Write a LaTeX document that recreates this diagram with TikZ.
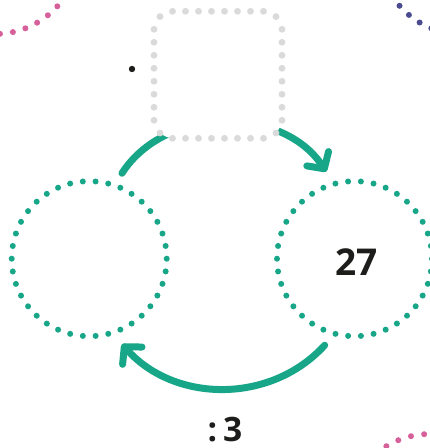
\documentclass[tikz,border=0pt]{standalone}
\usepackage{fontspec}
\setmainfont{Open Sans}
\usetikzlibrary{arrows.meta}
\definecolor{tealgreen}{HTML}{18A689}
\definecolor{dotgray}{HTML}{DADADA}
\definecolor{rosepink}{HTML}{D6609A}
\definecolor{inkblue}{HTML}{4B4B8F}
\definecolor{inkblack}{HTML}{1D1D1B}
\begin{document}
\begin{tikzpicture}[x=1pt,y=1pt, line join=round, line cap=round,
	ring/.style={circle, minimum size=155pt, inner sep=0pt, outer sep=14pt, draw=tealgreen, line width=6pt, dash pattern=on 0pt off 12.816pt, text=inkblack, font=\bfseries\fontsize{37}{40}\selectfont},
	flow/.style={draw=tealgreen, line width=7pt, -{Straight Barb[length=12pt,width=26pt,round]}}]
	\fill[white] (0,0) rectangle (430,448);
	\useasboundingbox (0,0) rectangle (430,448);
	\node[ring] (lring) at (89.2,189.3) {};
	\node[ring] (rring) at (354.5,189.3) {\hspace{4pt}\raisebox{-3pt}[\height][0pt]{27}};
	\draw[flow] (lring.69) to[bend left=57] (rring.108);
	\draw[flow] (rring.-109) to[bend left=48] (lring.-69);
	% box on top of the upper arrow
	\node[fill=white, minimum width=128pt, minimum height=127pt, rounded corners=20pt] (box) at (218,373.2) {};
	\foreach \i in {0,...,7}{
		\fill[dotgray] ([shift={(-45.5+13*\i,63.5)}]box.center) circle (3.4);
		\fill[dotgray] ([shift={(-45.5+13*\i,-63.5)}]box.center) circle (3.4);
		\fill[dotgray] ([shift={(-64,-45.5+13*\i)}]box.center) circle (3.4);
		\fill[dotgray] ([shift={(64,-45.5+13*\i)}]box.center) circle (3.4);
	}
	\foreach \sx/\sy in {1/1,1/-1,-1/1,-1/-1}
		\fill[dotgray] ([shift={(58*\sx,58.2*\sy)}]box.center) circle (3.4);
	\fill[inkblack] (132,379) circle (3.2) coordinate (pt);
	\node[text=inkblack, inner sep=0pt, font=\bfseries\fontsize{33.6}{36}\selectfont] (div) at (225,18) {:\hspace{6pt}3};
	% corner decorations
	\foreach \k in {-1,...,5} \fill[rosepink, shift={(-5,498)}] (-86.6+8.9*\k:84) circle (3);
	\foreach \k in {0,...,4} \fill[inkblue, shift={(463,498)}] (-138.7+8.9*\k:84.5) circle (3);
	\foreach \k in {-1,...,4} \fill[rosepink, shift={(430,-70)}] (121.3-9.1*\k:84) circle (3);
\end{tikzpicture}
\end{document}
